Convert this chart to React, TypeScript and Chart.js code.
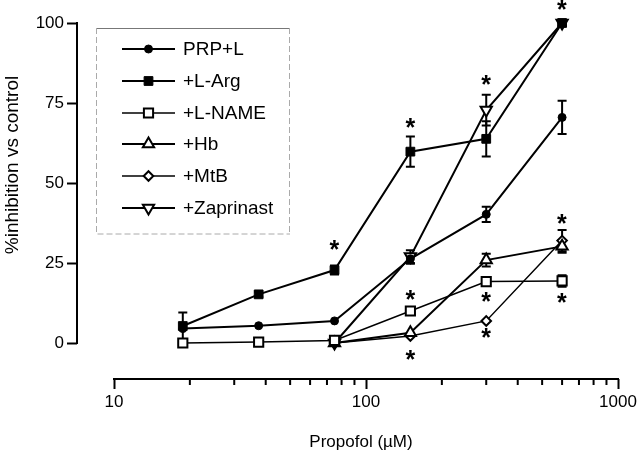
import React, { useEffect, useRef } from 'react';
import { Chart, registerables } from 'chart.js';

Chart.register(...registerables);

// ---- data ----
const DOSES = [18.75, 37.5, 75, 150, 300, 600];
const SERIES_LABELS = ['PRP+L', '+L-Arg', '+L-NAME', '+Hb', '+MtB', '+Zaprinast'];
const PRP_L = [4.5, 5.4, 6.9, 26.3, 40.2, 70.5];
const PRP_L_SEM = [0, 0, 0, 1.5, 2.4, 5.2];
const L_ARG = [5.3, 15.2, 22.8, 59.8, 63.8, 100];
const L_ARG_SEM = [4.2, 0.8, 1.4, 4.7, 5.5, 0.8];
const L_NAME = [0, 0.3, 0.8, 10, 19.2, 19.4];
const L_NAME_SEM = [0, 0, 0, 0, 0, 1.8];
const HB = [null, null, 0, 3.2, 25.9, 30.2];
const HB_SEM = [0, 0, 0, 0, 2, 2];
const MTB = [null, null, 0, 2.2, 6.9, 32];
const MTB_SEM = [0, 0, 0, 0, 0, 3.3];
const ZAP = [null, null, 0, 27, 72.8, 100];
const ZAP_SEM = [0, 0, 0, 2, 4.8, 0];
const STAR_X = [75, 150, 300, 600, 600, 150, 150, 300, 300, 600];
const STAR_Y = [30.6, 68.7, 82.2, 105.6, 38.7, 15, -3.75, 14.5, 3, 14];
const X_TICKS = [10, 100, 1000];
const X_MINOR = [20, 30, 40, 50, 60, 70, 80, 90, 200, 300, 400, 500, 600, 700, 800, 900];
const Y_TICKS = [0, 25, 50, 75, 100];
const X_TITLE = 'Propofol (µM)';
const Y_TITLE = '%inhibition vs control';

const SERIES_VALUES = [PRP_L, L_ARG, L_NAME, HB, MTB, ZAP];
const SERIES_SEM = [PRP_L_SEM, L_ARG_SEM, L_NAME_SEM, HB_SEM, MTB_SEM, ZAP_SEM];

// ---- styles ----
const FONT = '"Liberation Sans", Arial, Helvetica, sans-serif';
const STYLES = [
  { pointStyle: 'circle', r: 4, rot: 0, filled: true, lw: 2, plw: 1 },
  { pointStyle: 'rect', r: 6.2, rot: 0, filled: true, lw: 2, plw: 1 },
  { pointStyle: 'rect', r: 6.5, rot: 0, filled: false, lw: 1.5, plw: 2 },
  { pointStyle: 'triangle', r: 6.5, rot: 0, filled: false, lw: 2, plw: 2 },
  { pointStyle: 'rectRot', r: 4.8, rot: 0, filled: false, lw: 1.5, plw: 2 },
  { pointStyle: 'triangle', r: 6.5, rot: 180, filled: false, lw: 2, plw: 2 },
];

function drawMarker(ctx: CanvasRenderingContext2D, st: any, x: number, y: number) {
  const r = st.r;
  ctx.beginPath();
  if (st.pointStyle === 'circle') {
    ctx.arc(x, y, r, 0, Math.PI * 2);
  } else if (st.pointStyle === 'rect') {
    const s = r * Math.SQRT1_2;
    ctx.rect(x - s, y - s, 2 * s, 2 * s);
  } else if (st.pointStyle === 'rectRot') {
    ctx.moveTo(x, y - r);
    ctx.lineTo(x + r, y);
    ctx.lineTo(x, y + r);
    ctx.lineTo(x - r, y);
    ctx.closePath();
  } else {
    let a = (st.rot * Math.PI) / 180;
    ctx.moveTo(x + Math.sin(a) * r, y - Math.cos(a) * r);
    a += (2 * Math.PI) / 3;
    ctx.lineTo(x + Math.sin(a) * r, y - Math.cos(a) * r);
    a += (2 * Math.PI) / 3;
    ctx.lineTo(x + Math.sin(a) * r, y - Math.cos(a) * r);
    ctx.closePath();
  }
  ctx.fillStyle = st.filled ? '#000' : '#fff';
  ctx.fill();
  ctx.lineWidth = st.plw;
  ctx.strokeStyle = '#000';
  ctx.stroke();
}

const X_MIN = Math.pow(10, 1 - 37 / 252);
const Y_MIN = -36 / 3.2;

const errorBarPlugin = {
  id: 'errorBars',
  beforeDatasetsDraw(chart: any) {
    const ctx = chart.ctx;
    const ys = chart.scales.y;
    ctx.save();
    ctx.strokeStyle = '#000';
    ctx.lineWidth = 2;
    chart.data.datasets.forEach((ds: any, di: number) => {
      const meta = chart.getDatasetMeta(di);
      ds.data.forEach((pt: any, i: number) => {
        const e = pt.sem;
        if (!e) return;
        const el = meta.data[i];
        const x = el.x;
        const yt = ys.getPixelForValue(pt.y + e);
        const yb = ys.getPixelForValue(pt.y - e);
        ctx.beginPath();
        ctx.moveTo(x, yt);
        ctx.lineTo(x, yb);
        ctx.moveTo(x - 4.5, yt);
        ctx.lineTo(x + 4.5, yt);
        ctx.moveTo(x - 4.5, yb);
        ctx.lineTo(x + 4.5, yb);
        ctx.stroke();
      });
    });
    ctx.restore();
  },
};

const decorPlugin = {
  id: 'decor',
  afterDraw(chart: any) {
    const ctx = chart.ctx;
    const xs = chart.scales.x;
    const ys = chart.scales.y;
    ctx.save();
    // axis lines
    ctx.strokeStyle = '#000';
    ctx.lineWidth = 2;
    ctx.beginPath();
    const ax = chart.chartArea.left;
    ctx.moveTo(ax, ys.getPixelForValue(Y_TICKS[Y_TICKS.length - 1]) - 1);
    ctx.lineTo(ax, ys.getPixelForValue(Y_TICKS[0]) + 1);
    const ay = chart.chartArea.bottom;
    ctx.moveTo(xs.getPixelForValue(X_TICKS[0]) - 1, ay);
    ctx.lineTo(xs.getPixelForValue(X_TICKS[X_TICKS.length - 1]) + 1, ay);
    ctx.stroke();
    // minor ticks
    ctx.beginPath();
    X_MINOR.forEach((v) => {
      const px = xs.getPixelForValue(v);
      ctx.moveTo(px, ay);
      ctx.lineTo(px, ay + 6);
    });
    ctx.stroke();

    // asterisks
    ctx.fillStyle = '#000';
    ctx.font = `bold 25px ${FONT}`;
    ctx.textAlign = 'left';
    ctx.textBaseline = 'alphabetic';
    const m = ctx.measureText('*');
    STAR_X.forEach((sx, i) => {
      const xc = xs.getPixelForValue(sx);
      const yc = ys.getPixelForValue(STAR_Y[i]);
      const bx = xc - (m.actualBoundingBoxRight - m.actualBoundingBoxLeft) / 2;
      const by = yc - (m.actualBoundingBoxDescent - m.actualBoundingBoxAscent) / 2;
      ctx.fillText('*', bx, by);
    });

    // legend box
    const L = 96, T = 28, R = 290, B = 234;
    ctx.lineWidth = 1;
    ctx.strokeStyle = '#777';
    ctx.setLineDash([]);
    ctx.beginPath();
    ctx.moveTo(L, T + 0.5);
    ctx.lineTo(R, T + 0.5);
    ctx.stroke();
    ctx.strokeStyle = '#aaa';
    ctx.setLineDash([6, 3]);
    ctx.beginPath();
    ctx.moveTo(L + 0.5, T);
    ctx.lineTo(L + 0.5, B);
    ctx.lineTo(R, B);
    ctx.moveTo(R - 0.5, T);
    ctx.lineTo(R - 0.5, B);
    ctx.stroke();
    ctx.setLineDash([]);

    const rowY0 = 49;
    const rowStep = 31.8;
    ctx.font = `19px ${FONT}`;
    ctx.textBaseline = 'middle';
    ctx.textAlign = 'left';
    chart.data.datasets.forEach((ds: any, i: number) => {
      const st = STYLES[i];
      const y = Math.round(rowY0 + i * rowStep);
      ctx.strokeStyle = '#000';
      ctx.lineWidth = st.lw;
      ctx.beginPath();
      ctx.moveTo(122, y);
      ctx.lineTo(175, y);
      ctx.stroke();
      drawMarker(ctx, st, 148.5, y);
      ctx.fillStyle = '#000';
      ctx.fillText(ds.label, 183, y + 1);
    });

    // axis titles
    ctx.font = `17px ${FONT}`;
    ctx.textAlign = 'center';
    ctx.textBaseline = 'middle';
    ctx.fillText(X_TITLE, 361, 442);
    ctx.save();
    ctx.translate(13, 165);
    ctx.rotate(-Math.PI / 2);
    ctx.font = `19px ${FONT}`;
    ctx.fillText(Y_TITLE, 0, 0);
    ctx.restore();

    ctx.restore();
  },
};

export default function App() {
  const ref = useRef<HTMLCanvasElement | null>(null);

  useEffect(() => {
    if (!ref.current) return;
    const datasets = SERIES_LABELS.map((label, si) => {
      const st = STYLES[si];
      const vals = SERIES_VALUES[si];
      const sem = SERIES_SEM[si];
      const data = DOSES.map((d, i) => ({ x: d, y: vals[i], sem: sem[i] })).filter((p) => p.y !== null);
      return {
        label,
        data,
        borderColor: '#000',
        borderWidth: st.lw,
        backgroundColor: st.filled ? '#000' : '#fff',
        pointBackgroundColor: st.filled ? '#000' : '#fff',
        pointBorderColor: '#000',
        pointBorderWidth: st.plw,
        pointStyle: st.pointStyle,
        pointRotation: st.rot,
        pointRadius: st.r,
        pointHoverRadius: st.r,
        tension: 0,
        fill: false,
        clip: false,
      };
    });

    const chart = new Chart(ref.current, {
      type: 'line',
      data: { datasets: datasets as any },
      options: {
        animation: false,
        responsive: true,
        maintainAspectRatio: false,
        events: [],
        layout: { padding: { left: 0, right: 22, top: 23, bottom: 0 } },
        plugins: { legend: { display: false }, tooltip: { enabled: false }, title: { display: false } },
        scales: {
          x: {
            type: 'logarithmic',
            min: X_MIN,
            max: 1000,
            border: { display: false },
            grid: { drawOnChartArea: false, drawTicks: true, tickLength: 10, tickWidth: 2, tickColor: '#000' },
            ticks: {
              color: '#000',
              font: { family: FONT, size: 17 },
              padding: 3,
              autoSkip: false,
              maxRotation: 0,
              minRotation: 0,
              callback: (v: any) => String(v),
            },
            afterBuildTicks: (s: any) => {
              s.ticks = X_TICKS.map((v) => ({ value: v, major: true }));
            },
            afterFit: (s: any) => {
              s.height = 75;
            },
          },
          y: {
            type: 'linear',
            min: Y_MIN,
            max: 100,
            border: { display: false },
            grid: { drawOnChartArea: false, drawTicks: true, tickLength: 10, tickWidth: 2, tickColor: '#000' },
            ticks: {
              color: '#000',
              font: { family: FONT, size: 17 },
              padding: 3,
              callback: (v: any) => String(v),
            },
            afterBuildTicks: (s: any) => {
              s.ticks = Y_TICKS.map((v) => ({ value: v }));
            },
            afterFit: (s: any) => {
              s.width = 77;
            },
          },
        },
      } as any,
      plugins: [errorBarPlugin, decorPlugin],
    });
    return () => chart.destroy();
  }, []);

  return (
    <div style={{ position: 'absolute', left: 0, top: 0, width: 640, height: 454, background: '#fff' }}>
      <canvas ref={ref} />
    </div>
  );
}
